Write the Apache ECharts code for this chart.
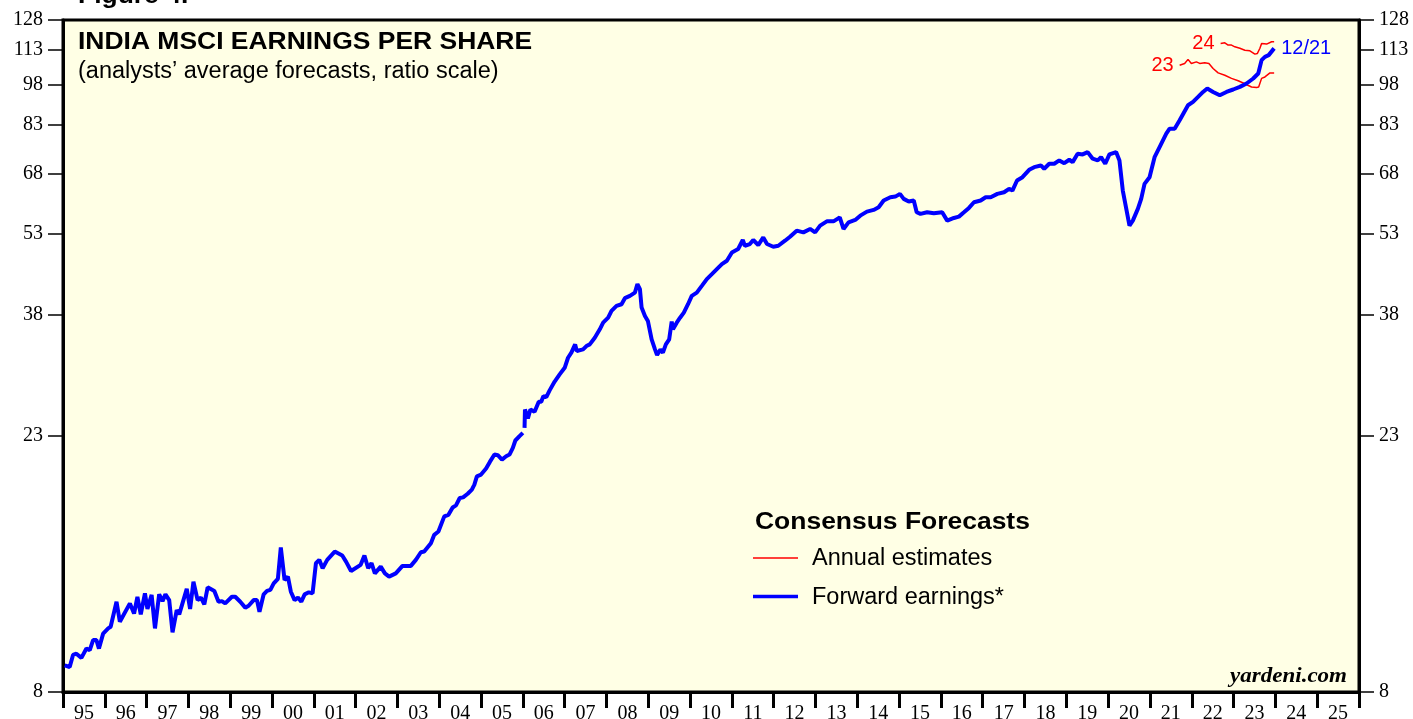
<!DOCTYPE html>
<html>
<head>
    <meta charset="utf-8">
    <title>India MSCI Earnings Per Share</title>
    <script src="https://cdn.jsdelivr.net/npm/echarts@6.0.0/dist/echarts.min.js"></script>
    <style>
        body { margin: 0; background: #fff; }
        #main { width: 1413px; height: 719px; }
    </style>
</head>
<body>
<div id="main"></div>
<script>
    // forward earnings (weekly-ish readings, decimal years)
    var fwdYears = [
        1995.04, 1995.16, 1995.24, 1995.32, 1995.44, 1995.56, 1995.64, 1995.72, 1995.80, 1995.86, 1995.96,
        1996.08, 1996.14, 1996.28, 1996.36, 1996.60, 1996.70, 1996.78, 1996.86, 1996.96,
        1997.02, 1997.12, 1997.20, 1997.30, 1997.38, 1997.45, 1997.54, 1997.62, 1997.72, 1997.78, 1997.96,
        1998.04, 1998.12, 1998.22, 1998.30, 1998.38, 1998.46, 1998.62, 1998.72, 1998.80, 1998.88,
        1999.04, 1999.12, 1999.24, 1999.36, 1999.44, 1999.56, 1999.64, 1999.70, 1999.80, 1999.88, 1999.96,
        2000.04, 2000.14, 2000.21, 2000.30, 2000.38, 2000.45, 2000.54, 2000.62, 2000.70, 2000.78, 2000.88, 2000.97,
        2001.05, 2001.13, 2001.21, 2001.32, 2001.50, 2001.68, 2001.77, 2001.89,
        2002.12, 2002.21, 2002.30, 2002.38, 2002.46, 2002.60, 2002.70, 2002.80, 2002.96,
        2003.12, 2003.32, 2003.44, 2003.56, 2003.64, 2003.80, 2003.88, 2003.98,
        2004.12, 2004.22, 2004.32, 2004.40, 2004.49, 2004.57, 2004.68, 2004.78, 2004.84, 2004.90,
        2005.00, 2005.12, 2005.21, 2005.32, 2005.40, 2005.50, 2005.60, 2005.68, 2005.76, 2005.82, 2005.92,
        2006.00, 2006.02, 2006.04, 2006.05, 2006.12, 2006.18, 2006.28, 2006.38, 2006.44, 2006.49, 2006.56, 2006.64, 2006.76, 2006.88,
        2007.00, 2007.08, 2007.16, 2007.25, 2007.29, 2007.44, 2007.52, 2007.60, 2007.72, 2007.84, 2007.92,
        2008.04, 2008.12, 2008.24, 2008.36, 2008.44, 2008.56, 2008.68, 2008.74, 2008.80, 2008.84, 2008.92, 2008.99,
        2009.08, 2009.16, 2009.21, 2009.29, 2009.35, 2009.42, 2009.50, 2009.56, 2009.59, 2009.68, 2009.76, 2009.85, 2009.95,
        2010.04, 2010.16, 2010.28, 2010.40, 2010.52, 2010.64, 2010.76, 2010.88,
        2011.00, 2011.15, 2011.26, 2011.31, 2011.43, 2011.51, 2011.63, 2011.75, 2011.84, 2011.99,
        2012.11, 2012.27, 2012.39, 2012.55, 2012.71, 2012.87, 2012.99,
        2013.11, 2013.27, 2013.43, 2013.58, 2013.67, 2013.79, 2013.95,
        2014.07, 2014.23, 2014.39, 2014.51, 2014.63, 2014.79, 2014.91,
        2015.02, 2015.11, 2015.23, 2015.35, 2015.42, 2015.51, 2015.67, 2015.83,
        2016.03, 2016.15, 2016.31, 2016.43, 2016.55, 2016.67, 2016.79, 2016.95,
        2017.07, 2017.19, 2017.35, 2017.51, 2017.63, 2017.71, 2017.82, 2017.95,
        2018.11, 2018.23, 2018.39, 2018.47, 2018.59, 2018.71, 2018.83, 2018.95,
        2019.07, 2019.15, 2019.27, 2019.39, 2019.51, 2019.63, 2019.75, 2019.83, 2019.93,
        2020.03, 2020.19, 2020.27, 2020.35, 2020.51, 2020.59, 2020.63, 2020.71, 2020.79, 2020.87, 2020.99,
        2021.03, 2021.11, 2021.23, 2021.39, 2021.47, 2021.59, 2021.71, 2021.91,
        2022.03, 2022.15, 2022.27, 2022.37, 2022.51, 2022.67, 2022.83, 2022.99,
        2023.15, 2023.31, 2023.47, 2023.59, 2023.67, 2023.75, 2023.84, 2023.97
    ];
    var fwdEps = [
        8.93, 8.87, 9.32, 9.37, 9.21, 9.57, 9.51, 9.91, 9.91, 9.57, 10.18,
        10.40, 10.47, 11.61, 10.69, 11.53, 11.06, 11.85, 11.02, 12.02,
        11.27, 11.94, 10.40, 11.97, 11.64, 11.97, 11.69, 10.23, 11.22, 11.02, 12.24,
        11.27, 12.61, 11.69, 11.81, 11.48, 12.32, 12.14, 11.61, 11.64, 11.53,
        11.85, 11.85, 11.61, 11.33, 11.42, 11.69, 11.69, 11.14, 11.97, 12.14, 12.19,
        12.52, 12.76, 14.52, 12.70, 12.88, 12.10, 11.69, 11.81, 11.61, 11.97, 12.07, 12.02,
        13.61, 13.80, 13.33, 13.80, 14.28, 14.05, 13.70, 13.18,
        13.52, 14.05, 13.33, 13.61, 13.05, 13.42, 13.05, 12.88, 13.05,
        13.46, 13.46, 13.80, 14.24, 14.28, 14.78, 15.30, 15.51,
        16.51, 16.62, 17.13, 17.28, 17.81, 17.86, 18.13, 18.44, 18.82, 19.48,
        19.62, 20.11, 20.67, 21.31, 21.25, 20.87, 21.16, 21.31, 21.90, 22.58, 22.99,
        23.30, null, 23.79, 25.67, 24.73, 25.67, 25.42, 26.49, 26.49, 27.12, 27.01, 27.77, 28.80, 29.66,
        30.48, 31.77, 32.44, 33.57, 32.66, 32.88, 33.34, 33.57, 34.51, 35.72, 36.72,
        37.48, 38.54, 39.35, 39.62, 40.62, 41.01, 41.57, 43.05, 42.16, 39.07, 37.75, 36.98,
        34.28, 32.88, 32.13, 32.88, 32.44, 33.57, 34.28, 36.88, 35.72, 36.72, 37.48, 38.27, 39.62,
        41.01, 41.57, 42.74, 43.95, 44.86, 45.80, 46.76, 47.40,
        49.06, 49.76, 51.64, 50.43, 50.79, 51.64, 50.58, 52.20, 50.79, 50.23,
        50.43, 51.49, 52.35, 53.67, 53.30, 54.05, 53.30,
        54.80, 55.78, 55.78, 56.70, 54.05, 55.54, 56.10,
        57.10, 58.06, 58.47, 59.10, 60.77, 61.59, 61.77,
        62.47, 61.19, 60.52, 60.77, 57.90, 57.51, 57.90, 57.65,
        57.90, 55.94, 56.56, 56.87, 57.90, 58.96, 60.34, 60.77,
        61.59, 61.59, 62.47, 62.89, 63.78, 63.33, 66.01, 66.92,
        68.99, 69.75, 70.24, 69.29, 70.73, 70.73, 71.71, 70.91,
        71.91, 71.21, 73.71, 73.51, 74.22, 72.22, 71.71, 72.69, 70.73,
        73.51, 74.22, 71.71, 63.33, 54.80, 55.94, 56.33, 58.71, 61.19, 65.11, 66.92,
        68.80, 72.69, 75.77, 80.08, 81.75, 81.75, 84.62, 90.04,
        91.28, 93.18, 95.13, 96.48, 95.13, 93.83, 95.13, 96.09,
        97.13, 98.50, 100.56, 102.66, 108.47, 109.96, 110.73, 113.86
    ];

    // annual estimates for 2023 and 2024
    var est23Years = [2021.71, 2021.83, 2021.91, 2021.99, 2022.11, 2022.19, 2022.31, 2022.41, 2022.51, 2022.63, 2022.79,
        2022.95, 2023.11, 2023.23, 2023.34, 2023.43, 2023.55, 2023.60, 2023.67, 2023.75, 2023.87, 2023.97];
    var est23Eps = [106.2, 107.0, 108.8, 107.0, 107.7, 107.0, 107.3, 107.0, 104.8, 102.9, 101.9,
        100.6, 99.6, 98.7, 97.8, 97.1, 96.9, 97.1, 100.6, 101.2, 102.9, 102.9];
    var est24Years = [2022.69, 2022.79, 2022.87, 2022.95, 2023.03, 2023.15, 2023.27, 2023.39, 2023.51, 2023.57,
        2023.63, 2023.67, 2023.79, 2023.91, 2023.97];
    var est24Eps = [116.2, 116.5, 115.4, 115.4, 114.6, 113.9, 113.0, 112.7, 111.2, 111.5,
        113.9, 116.2, 115.9, 117.0, 117.0];

    var yTicks = [8, 23, 38, 53, 68, 83, 98, 113, 128];
    var yearTicks = [];
    var yearLabels = [];
    for (var yr = 1995; yr <= 2026; yr++) {
        yearTicks.push(yr);
        if (yr < 2026) yearLabels.push(yr + 0.5);
    }

    // ratio scale: plot natural log of eps on a value axis
    function toPairs(xs, ys) {
        return xs.map(function (x, i) {
            return [x, ys[i] == null ? '-' : Math.log(ys[i])];
        });
    }

    function withStartLabel(pairs, text) {
        pairs[0] = {
            value: pairs[0],
            label: {show: true, position: 'left', distance: 6, formatter: text,
                color: '#ff0000', fontSize: 20, fontFamily: 'Arial, Liberation Sans'}
        };
        return pairs;
    }

    var logTicks = yTicks.map(Math.log);
    var serif = "'Times New Roman', 'Liberation Serif', serif";
    var sans = "Arial, 'Liberation Sans', sans-serif";

    function yAxis(pos) {
        return {
            type: 'value',
            position: pos,
            min: Math.log(8),
            max: Math.log(128),
            splitLine: {show: false},
            axisLine: {show: true, lineStyle: {color: '#000', width: 3}},
            axisTick: {show: true, customValues: logTicks, length: 15, lineStyle: {color: '#000', width: 1.5}},
            axisLabel: {
                customValues: logTicks,
                margin: 20,
                color: '#000',
                fontSize: 20,
                fontFamily: serif,
                formatter: function (v) { return Math.round(Math.exp(v)); }
            }
        };
    }

    var myChart = echarts.init(document.getElementById('main'));

    var option = {
        animation: false,
        backgroundColor: '#ffffff',
        grid: {
            left: 63, right: 54, top: 20, bottom: 27,
            containLabel: false,
            outerBoundsMode: 'none',
            show: true,
            backgroundColor: '#FFFFE5',
            borderColor: '#000',
            borderWidth: 3
        },
        xAxis: {
            type: 'value',
            min: 1995,
            max: 2026,
            splitLine: {show: false},
            axisLine: {lineStyle: {color: '#000', width: 3}},
            axisTick: {show: true, customValues: yearTicks, length: 16, lineStyle: {color: '#000', width: 3}},
            axisLabel: {
                customValues: yearLabels,
                margin: 12,
                color: '#000',
                fontSize: 20,
                fontFamily: serif,
                formatter: function (v) {
                    var s = String(Math.floor(v) % 100);
                    return s.length < 2 ? '0' + s : s;
                }
            }
        },
        yAxis: [yAxis('left'), yAxis('right')],
        series: [
            {
                name: 'Annual estimates 23',
                type: 'line',
                symbol: 'circle',
                symbolSize: 0,
                showSymbol: true,
                lineStyle: {color: '#ff0000', width: 1.5},
                itemStyle: {color: '#ff0000'},
                emphasis: {disabled: true},
                data: withStartLabel(toPairs(est23Years, est23Eps), '23')
            },
            {
                name: 'Annual estimates 24',
                type: 'line',
                symbol: 'circle',
                symbolSize: 0,
                showSymbol: true,
                lineStyle: {color: '#ff0000', width: 1.5},
                itemStyle: {color: '#ff0000'},
                emphasis: {disabled: true},
                data: withStartLabel(toPairs(est24Years, est24Eps), '24')
            },
            {
                name: 'Forward earnings*',
                type: 'line',
                symbol: 'none',
                showSymbol: false,
                connectNulls: false,
                lineStyle: {color: '#0000ff', width: 4},
                endLabel: {show: true, formatter: '12/21', color: '#0000ff', fontSize: 20, fontFamily: sans, distance: 7},
                data: toPairs(fwdYears, fwdEps)
            }
        ],
        graphic: [
            {type: 'text', x: 78, y: -3, scaleX: 1.15,
                style: {text: 'Figure 4.', font: 'bold 23px ' + sans, fill: '#000', verticalAlign: 'middle'}},
            {type: 'text', x: 78, y: 43, scaleX: 1.15,
                style: {text: 'INDIA MSCI EARNINGS PER SHARE', font: 'bold 23px ' + sans, fill: '#000', verticalAlign: 'middle'}},
            {type: 'text', x: 78, y: 72,
                style: {text: '(analysts\u2019 average forecasts, ratio scale)', font: '23.5px ' + sans, fill: '#000', verticalAlign: 'middle'}},
            {type: 'text', x: 755, y: 523, scaleX: 1.15,
                style: {text: 'Consensus Forecasts', font: 'bold 23px ' + sans, fill: '#000', verticalAlign: 'middle'}},
            {type: 'line', shape: {x1: 753, y1: 558, x2: 798, y2: 558}, style: {stroke: '#ff0000', lineWidth: 1.5}},
            {type: 'text', x: 812, y: 559,
                style: {text: 'Annual estimates', font: '23.5px ' + sans, fill: '#000', verticalAlign: 'middle'}},
            {type: 'line', shape: {x1: 753, y1: 596.5, x2: 798, y2: 596.5}, style: {stroke: '#0000ff', lineWidth: 3.5}},
            {type: 'text', x: 812, y: 598,
                style: {text: 'Forward earnings*', font: '23.5px ' + sans, fill: '#000', verticalAlign: 'middle'}},
            {type: 'text', x: 1347, y: 677, scaleX: 1.15,
                style: {text: 'yardeni.com', font: 'italic bold 20px ' + serif, fill: '#000', align: 'right', verticalAlign: 'middle'}}
        ]
    };

    myChart.setOption(option);
</script>
</body>
</html>
